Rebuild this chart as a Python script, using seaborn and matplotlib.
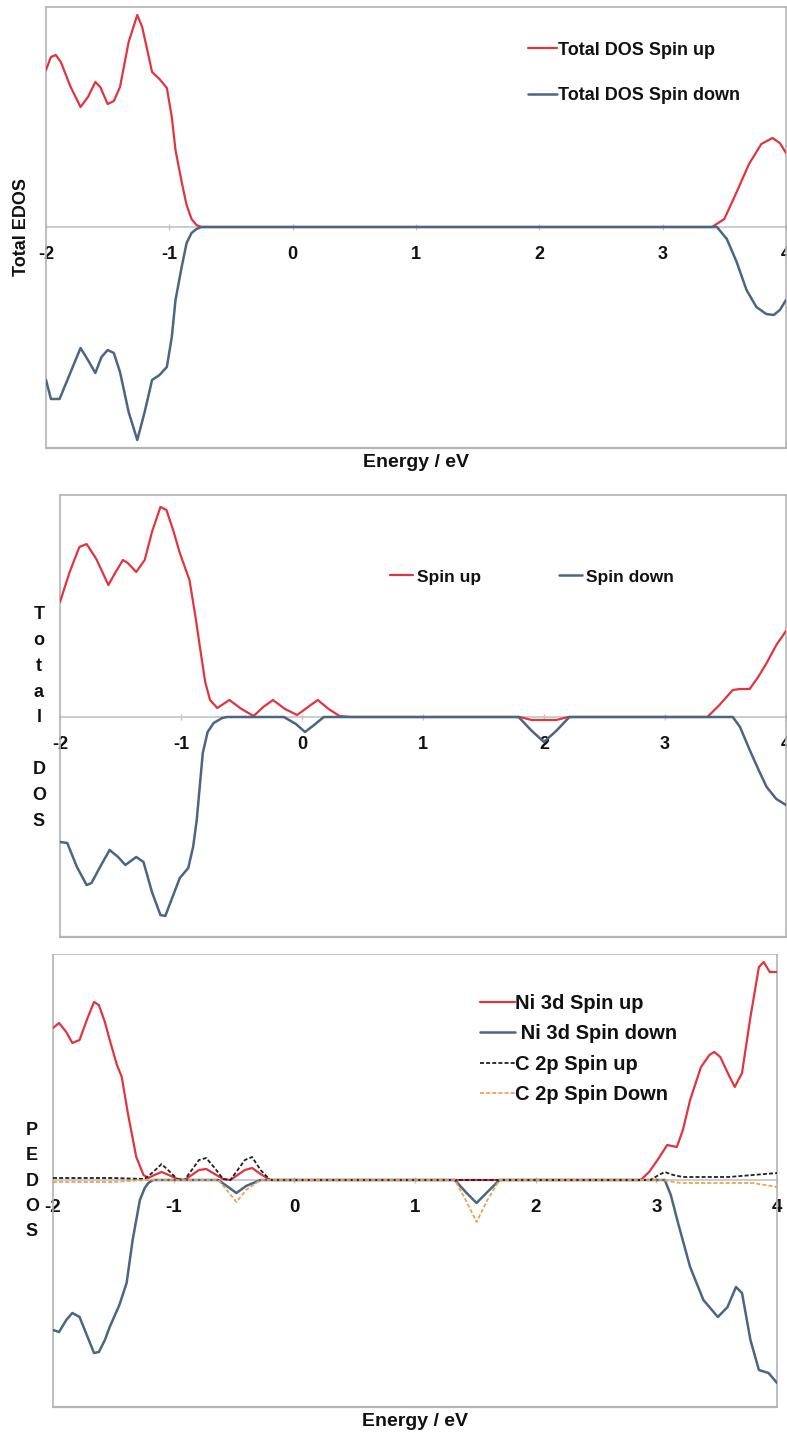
import matplotlib
matplotlib.use('Agg')
import matplotlib.pyplot as plt
from matplotlib.patches import Rectangle
import seaborn as sns
import pandas as pd

sns.set_style('white')
plt.rcParams['font.family'] = ['Liberation Sans', 'DejaVu Sans']
plt.rcParams['font.weight'] = 'bold'
plt.rcParams['text.color'] = '#111111'
plt.rcParams['axes.labelcolor'] = '#111111'

# ---------------- data ----------------
XTICKS = [-2, -1, 0, 1, 2, 3, 4]
XTICK_LABELS = ['-2', '-1', '0', '1', '2', '3', '4']

# Panel 1: Total EDOS
p1_up_E = [-2.0, -1.96, -1.92, -1.88, -1.80, -1.72, -1.66, -1.60, -1.56, -1.50, -1.45, -1.40,
           -1.33, -1.26, -1.22, -1.14, -1.08, -1.02, -0.98, -0.95, -0.90, -0.86, -0.82, -0.78,
           -0.74, 3.40, 3.50, 3.60, 3.70, 3.80, 3.89, 3.95, 4.0]
p1_up_V = [157, 170, 172, 165, 140, 120, 130, 145, 140, 123, 126, 140,
           185, 212, 200, 155, 148, 139, 110, 77, 45, 22, 8, 2,
           0, 0, 8, 35, 63, 83, 89, 84, 74]
p1_dn_E = [-2.0, -1.96, -1.89, -1.80, -1.72, -1.66, -1.60, -1.55, -1.50, -1.45, -1.40, -1.33,
           -1.26, -1.20, -1.14, -1.08, -1.02, -0.98, -0.95, -0.90, -0.86, -0.82, -0.78, -0.74,
           3.44, 3.52, 3.60, 3.68, 3.76, 3.84, 3.90, 3.95, 4.0]
p1_dn_V = [-153, -172, -172, -145, -121, -133, -146, -130, -123, -126, -145, -185,
           -213, -185, -153, -148, -140, -110, -73, -40, -16, -6, -2, 0,
           0, -12, -35, -63, -80, -87, -88, -83, -73]

# Panel 2: Total DOS
p2_up_E = [-2.0, -1.92, -1.84, -1.78, -1.70, -1.60, -1.54, -1.48, -1.44, -1.37, -1.30, -1.24,
           -1.17, -1.12, -1.06, -1.01, -0.93, -0.88, -0.84, -0.80, -0.76, -0.70, -0.60, -0.50,
           -0.40, -0.32, -0.24, -0.14, -0.04, 0.05, 0.13, 0.22, 0.31, 0.40, 1.80, 1.90,
           2.00, 2.10, 2.20, 3.35, 3.45, 3.56, 3.62, 3.70, 3.77, 3.84, 3.92, 4.0]
p2_up_V = [115, 145, 170, 173, 158, 132, 145, 157, 154, 145, 157, 185,
           210, 207, 185, 164, 137, 100, 67, 35, 17, 9, 17, 8,
           1, 10, 17, 8, 2, 10, 17, 8, 1, 0, 0, -3,
           -3, -3, 0, 0, 12, 27, 28, 28, 40, 54, 72, 86]
p2_dn_E = [-2.0, -1.94, -1.86, -1.78, -1.74, -1.66, -1.59, -1.52, -1.46, -1.37, -1.31, -1.24,
           -1.17, -1.13, -1.07, -1.01, -0.94, -0.90, -0.87, -0.82, -0.78, -0.73, -0.66, -0.62,
           -0.15, -0.05, 0.025, 0.10, 0.18, 1.79, 1.90, 2.00, 2.10, 2.21,
           3.56, 3.62, 3.70, 3.77, 3.84, 3.92, 4.0]
p2_dn_V = [-125, -126, -150, -168, -166, -148, -133, -140, -148, -140, -145, -175,
           -198, -199, -180, -161, -151, -130, -103, -36, -15, -6, -1, 0,
           0, -7, -15, -8, 0, 0, -14, -25, -14, 0,
           0, -10, -33, -52, -70, -82, -88]

# Panel 3: PEDOS
ni_up_E = [-2.0, -1.95, -1.89, -1.84, -1.78, -1.72, -1.66, -1.62, -1.57, -1.53, -1.47, -1.43,
           -1.38, -1.31, -1.25, -1.21, -1.16, -1.10, -1.04, -0.97, -0.91, -0.85, -0.79, -0.73,
           -0.66, -0.59, -0.53, -0.47, -0.41, -0.35, -0.28, -0.20, 2.87, 2.94, 3.01, 3.09,
           3.17, 3.22, 3.28, 3.37, 3.44, 3.48, 3.53, 3.60, 3.65, 3.71, 3.78, 3.85, 3.89,
           3.94, 4.0]
ni_up_V = [152, 157, 148, 137, 140, 160, 178, 175, 158, 140, 115, 103,
           67, 23, 5, 2, 5, 8, 5, 1, 0, 5, 10, 11,
           6, 1, 0, 5, 10, 12, 6, 0, 0, 8, 20, 35,
           33, 50, 80, 113, 125, 128, 123, 105, 93, 107, 163, 213, 218,
           208, 208]
ni_dn_E = [-2.0, -1.95, -1.89, -1.84, -1.78, -1.72, -1.66, -1.62, -1.57, -1.53, -1.45, -1.39,
           -1.34, -1.28, -1.24, -1.21, -1.17, -0.63, -0.56, -0.48, -0.40, -0.28,
           1.33, 1.42, 1.51, 1.60, 1.70, 3.07, 3.12, 3.18, 3.28, 3.39, 3.51, 3.59,
           3.66, 3.71, 3.78, 3.85, 3.93, 4.0]
ni_dn_V = [-150, -152, -140, -133, -137, -155, -173, -172, -160, -147, -125, -103,
           -60, -20, -8, -3, 0, 0, -6, -13, -6, 0,
           0, -12, -23, -12, 0, 0, -15, -43, -87, -120, -137, -127,
           -107, -113, -160, -190, -193, -203]
c_up_E = [-2.0, -1.5, -1.24, -1.17, -1.10, -1.03, -0.97, -0.91, -0.85, -0.79, -0.73, -0.66,
          -0.59, -0.53, -0.47, -0.41, -0.35, -0.28, -0.20, 2.95, 3.02, 3.07, 3.14, 3.22,
          3.4, 3.6, 3.8, 3.9, 4.0]
c_up_V = [2, 2, 1, 8, 16, 8, 1, 0, 10, 20, 22, 12,
          1, 0, 10, 20, 23, 10, 0, 0, 5, 8, 5, 3,
          3, 3, 5, 6, 7]
c_dn_E = [-2.0, -1.5, -1.24, -0.63, -0.56, -0.48, -0.40, -0.28, 1.33, 1.42, 1.51, 1.60,
          1.70, 3.05, 3.2, 3.5, 3.8, 3.9, 4.0]
c_dn_V = [-2, -2, 0, 0, -10, -22, -10, 0, 0, -20, -42, -20,
          0, 0, -3, -3, -3, -5, -7]

RED = '#e2343e'
BLUE = '#4b6584'
BLACK = '#202020'
ORANGE = '#f0a050'
BOX = '#b4b4b4'
ZERO = '#c4c4c4'
TXT = '#111111'

W, H = 787, 1434
fig = plt.figure(figsize=(W / 100, H / 100), dpi=100)


def make_axes(left, top, right, bottom):
    return fig.add_axes([left / W, 1 - bottom / H, (right - left) / W, (bottom - top) / H])


def style(ax, ylim, tick_size=13):
    ax.set_xlim(-2, 4)
    ax.set_ylim(*ylim)
    for s in ['top', 'left', 'right']:
        ax.spines[s].set_visible(True)
        ax.spines[s].set_color(BOX)
        ax.spines[s].set_linewidth(1.2)
    ax.spines['bottom'].set_visible(True)
    ax.spines['bottom'].set_position(('data', 0))
    ax.spines['bottom'].set_color(ZERO)
    ax.spines['bottom'].set_linewidth(1.2)
    ax.spines['bottom'].set_zorder(0.5)
    ax.plot([0, 1], [0, 0], transform=ax.transAxes, color=BOX, lw=1.6, clip_on=False)
    ax.set_xticks(XTICKS)
    ax.set_xticklabels(XTICK_LABELS, fontweight='bold', fontsize=tick_size)
    ax.set_yticks([])
    ax.tick_params(axis='x', direction='inout', length=4, width=1, color=ZERO, pad=12,
                   bottom=True, labelcolor=TXT)
    ax.set_xlabel('')
    ax.set_ylabel('')


def line(ax, E, V, color, label, ls='-', lw=1.6):
    df = pd.DataFrame({'E': E, 'V': V})
    sns.lineplot(data=df, x='E', y='V', ax=ax, color=color, lw=lw, linestyle=ls,
                 label=label, estimator=None, sort=False, zorder=3)


# ---------- Panel 1 ----------
ax1 = make_axes(46, 7, 786, 448)
line(ax1, p1_up_E, p1_up_V, RED, 'Total DOS Spin up')
line(ax1, p1_dn_E, p1_dn_V, BLUE, 'Total DOS Spin down', lw=1.8)
style(ax1, (-221, 220))
ax1.legend(loc='center left', bbox_to_anchor=((528 - 46) / 740, (448 - 73) / 441),
           frameon=False, handlelength=1.6, handletextpad=0.05,
           labelspacing=1.6, borderpad=0, borderaxespad=0,
           prop={'weight': 'bold', 'size': 13})
ax1.set_ylabel('Total EDOS', fontsize=13, fontweight='bold')
ax1.yaxis.set_label_coords((22 - 46) / 740, 0.5)
ax1.yaxis.label.set_verticalalignment('center')
ax1.set_xlabel('Energy / eV', fontsize=14, fontweight='bold')
ax1.xaxis.set_label_coords(0.5, (448 - 463) / 441)
ax1.xaxis.label.set_verticalalignment('center')

# ---------- Panel 2 ----------
ax2 = make_axes(60, 495, 786, 937)
line(ax2, p2_up_E, p2_up_V, RED, 'Spin up')
line(ax2, p2_dn_E, p2_dn_V, BLUE, 'Spin down', lw=1.8)
style(ax2, (-220, 222))
ax2.legend(loc='center left', bbox_to_anchor=((390 - 60) / 726, (937 - 577) / 442),
           ncol=2, frameon=False, handlelength=1.3, handletextpad=0.25,
           columnspacing=4.5, borderpad=0, borderaxespad=0,
           prop={'weight': 'bold', 'size': 12.5})
ax2.set_ylabel('T\no\nt\na\nl\n\nD\nO\nS', fontsize=13, fontweight='bold', rotation=0,
               linespacing=1.68, va='center', ha='center')
ax2.yaxis.set_label_coords((39 - 60) / 726, (937 - 718) / 442)
ax2.set_xlabel('Energy / eV', fontsize=14, fontweight='bold')
ax2.xaxis.set_label_coords(0.5, (937 - 957) / 442)
ax2.xaxis.label.set_verticalalignment('center')

# white strip of the stitched image between panel 2 and 3
fig.add_artist(Rectangle((0, 1 - 954 / H), 1, 6 / H, transform=fig.transFigure,
                         facecolor='white', edgecolor='none', zorder=20))

# ---------- Panel 3 ----------
ax3 = make_axes(53, 954, 777, 1407)
line(ax3, ni_up_E, ni_up_V, RED, 'Ni 3d Spin up')
line(ax3, ni_dn_E, ni_dn_V, BLUE, ' Ni 3d Spin down', lw=1.8)
line(ax3, c_up_E, c_up_V, BLACK, 'C 2p Spin up', ls=(0, (2.2, 1.2)), lw=1.3)
line(ax3, c_dn_E, c_dn_V, ORANGE, 'C 2p Spin Down', ls=(0, (2.2, 1.2)), lw=1.3)
style(ax3, (-227, 226), tick_size=13.5)
ax3.legend(loc='center left', bbox_to_anchor=((480 - 53) / 724, (1407 - 1049) / 453),
           frameon=False, handlelength=1.75, handletextpad=0.0,
           labelspacing=0.56, borderpad=0, borderaxespad=0,
           prop={'weight': 'bold', 'size': 14.5})
ax3.set_ylabel('P\nE\nD\nO\nS', fontsize=13, fontweight='bold', rotation=0,
               linespacing=1.64, va='center', ha='center')
ax3.yaxis.set_label_coords((32 - 53) / 724, (1407 - 1181) / 453)
ax3.set_xlabel('Energy / eV', fontsize=14, fontweight='bold')
ax3.xaxis.set_label_coords(0.5, (1407 - 1422) / 453)
ax3.xaxis.label.set_verticalalignment('center')

fig.savefig('out.png', dpi=100, facecolor='white')
